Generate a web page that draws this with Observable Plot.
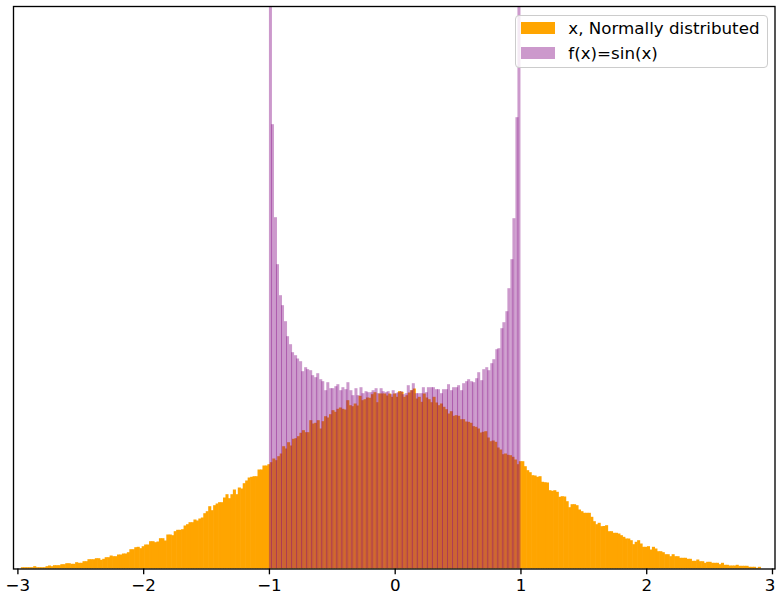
<!DOCTYPE html>
<html>
<head>
<meta charset="utf-8">
<script src="https://cdn.jsdelivr.net/npm/d3@7"></script>
<script src="https://cdn.jsdelivr.net/npm/@observablehq/plot@0.6"></script>
<style>
  body { margin: 0; background: #fff; }
  #wrap { position: relative; width: 776px; height: 599px; overflow: hidden; font-family: "DejaVu Sans", sans-serif; }
  #wrap svg { position: absolute; left: 0; top: 0; }
  .lg-box { position: absolute; left: 515px; top: 15px; width: 253px; height: 53px; box-sizing: border-box;
            border: 1.3px solid #cccccc; border-radius: 4px; background: rgba(255,255,255,0.8); }
  .lg-patch { position: absolute; width: 33.5px; height: 11.7px; }
  .lg-text { position: absolute; font-size: 16.7px; line-height: 16.7px; color: #000; white-space: nowrap; }
</style>
</head>
<body>
<div id="wrap"></div>
<script>
// ---- data ----
const seriesNames = ["x, Normally distributed", "f(x)=sin(x)"];
const seriesColors = ["#FFA500", "purple"];

// x ~ Normal: 300 bins
const orangeStart = -2.97;
const orangeBinWidth = 0.0196;
const orangeCounts = [
  1.3,1.3,1.3,1.3,1.3,2.3,1.3,1.3,1.3,1.3,
  2.3,3,2.3,3.3,3.3,3.3,4.3,4.3,5.3,5.3,
  4.7,4.7,6.3,5.7,5.7,7.3,7.3,9.3,9.3,9.3,
  10.3,10.3,8.7,9.7,11.3,11.3,13,12.3,12.3,14,
  14,15,15,16.3,19.3,19.3,21.3,21.7,20.3,22.3,
  24,24,27.3,27.3,26.3,27,30.3,30.3,28,34,
  34,33.3,37.3,38.7,38.7,39.3,43,44.3,46.3,46.3,
  49,48,50,51,55.3,57.3,62.3,58.3,63.3,65,
  66.3,66.3,71,74.3,70.3,74.3,79,74.3,81,80,
  85.3,88,91,91.7,92.3,92.3,99,99,103,103,
  104.3,106.3,110,108.3,112.3,115,122.3,120,126.3,123,
  129.7,130.3,132.3,135.7,138.3,136.3,136.3,148.3,145,145.7,
  148.3,140,147.3,152.3,151,154.3,158.3,156.7,159.7,161,
  159.7,159,168.3,163.3,162.3,165,163,172.7,168.3,169.3,
  171,170.7,174.3,176.3,166.3,175,175,175,173,175,
  171.7,175,171.7,177.3,176.7,171.7,173.3,176,178.3,180,
  170,171.7,166.7,175,171,169.3,166.3,171.7,166,163.3,
  165,161.7,159.3,155,157.3,152.7,153.3,152.7,149.3,149.3,
  147,146.7,145.7,142.3,141.7,140,136,136.7,137.3,131,
  127.3,128,126.7,121,119,114.3,115,113.7,113.3,111.7,
  109,104.3,107.3,107.3,102.3,98.3,96.3,93.3,93,91.7,
  92.3,86.7,86.3,86,78.3,77.7,78.3,76.7,71.7,72.3,
  72,67.3,61.3,64.3,64.3,63.3,59,57.3,55.7,55.7,
  55.7,51.7,47.3,44.3,45.7,42.3,42.5,43.3,37.3,37.3,
  35.7,35.7,35,33.3,31.7,30,30,28.3,24.3,26.7,
  28.3,25,21.7,21.7,22.3,19,21.7,20,17.3,17.3,
  16.3,14.3,14.3,12.3,14.3,12.3,12.3,10.7,10.7,10.7,
  9.7,9.7,7.7,7.7,9,7.3,7.3,5.7,6.7,6.7,
  5.7,5.7,5.7,4.3,5.7,3.7,3.7,3,3,3,
  3.7,2.7,2.7,2.7,2.7,1.7,1.7,1.7,0.7,1.7
];

// f(x) = sin(x): 100 bins on [-1, 1]; the two end bins run past the top of the axes
const purpleStart = -1;
const purpleBinWidth = 0.02;
const purpleCounts = [
  620,444.3,351.3,304.3,273.3,263.3,247.3,232.3,224.3,216.3,
  213.3,210,207.3,197.3,201.3,199.3,198.3,193.3,191.3,195.3,
  189.3,187.3,178.3,186.3,180.3,180.3,182.3,184.3,178.3,181.3,
  179.3,186.3,178.3,173.3,180.3,173.3,181.3,175.3,177.3,176.3,
  176.3,178.3,180.3,175.3,180.3,177.3,176.3,177.3,174.3,178.3,
  175.3,176.3,177.3,174.3,175.3,183.3,178.3,185.3,175.3,175.3,
  175.3,181.3,176.3,181.3,181.3,181.3,179.3,179.3,175.3,179.3,
  179.3,184.3,178.3,181.3,181.3,183.3,178.3,185.3,187.3,189.3,
  187.3,186.3,190.3,196.3,188.3,199.3,201.3,198.3,205.3,209.3,
  219.3,220.3,240.3,246.3,257.3,280.3,309.3,350.3,451.3,620
];

const xTicks = [-3, -2, -1, 0, 1, 2, 3];
const xDomain = [-3.035, 3.02];
const yDomain = [0, 562.5];

// ---- build tables ----
const orangeBins = orangeCounts.map((c, i) => ({
  x1: orangeStart + i * orangeBinWidth,
  x2: orangeStart + (i + 1) * orangeBinWidth,
  count: c
}));
const purpleBins = purpleCounts.map((c, i) => ({
  i,
  x1: purpleStart + i * purpleBinWidth,
  x2: purpleStart + (i + 1) * purpleBinWidth,
  count: c
}));

const fmt = d3.format("d");
const lastTick = xTicks[xTicks.length - 1];

const chart = Plot.plot({
  width: 776,
  height: 599,
  marginLeft: 13,
  marginRight: 1.5,
  marginTop: 6,
  marginBottom: 30.5,
  x: { domain: xDomain },
  y: { domain: yDomain, axis: null },
  style: { fontFamily: "DejaVu Sans, sans-serif", fontSize: "16.7px", background: "white", color: "black", overflow: "visible" },
  marks: [
    Plot.rectY(orangeBins, { x1: "x1", x2: "x2", y: "count", fill: seriesColors[0], insetLeft: -0.3, insetRight: -0.3 }),
    Plot.rectY(purpleBins.filter(d => d.i % 2 === 0), { x1: "x1", x2: "x2", y: "count", fill: seriesColors[1], fillOpacity: 0.4, insetLeft: 0, insetRight: -0.5, clip: true }),
    Plot.rectY(purpleBins.filter(d => d.i % 2 === 1), { x1: "x1", x2: "x2", y: "count", fill: seriesColors[1], fillOpacity: 0.4, insetLeft: -0.5, insetRight: 0, clip: true }),
    Plot.frame({ stroke: "black", strokeWidth: 1.33 }),
    Plot.axisX({ ticks: xTicks, tickSize: 5.8, tickPadding: 4.5, fontSize: 16.7, strokeWidth: 1.33, label: null, text: null }),
    Plot.axisX({ ticks: xTicks.filter(t => t !== lastTick), tickSize: 0, tickPadding: 10.3, fontSize: 16.7, tickFormat: fmt, label: null }),
    Plot.axisX({ ticks: [lastTick], tickSize: 0, tickPadding: 10.3, fontSize: 16.7, tickFormat: fmt, label: null, dx: -2.5 })
  ]
});

const wrap = document.getElementById("wrap");
wrap.appendChild(chart);

// ---- legend (upper right, inside axes) ----
const box = document.createElement("div");
box.className = "lg-box";
wrap.appendChild(box);
const legendRows = [
  { patchTop: 22.3, textTop: 20.2 },
  { patchTop: 47.0, textTop: 44.6 }
];
seriesNames.forEach((name, k) => {
  const p = document.createElement("div");
  p.className = "lg-patch";
  p.style.left = "521px";
  p.style.top = legendRows[k].patchTop + "px";
  p.style.background = seriesColors[k];
  if (k === 1) p.style.opacity = 0.4;
  wrap.appendChild(p);
  const t = document.createElement("div");
  t.className = "lg-text";
  t.style.left = "568.3px";
  t.style.top = legendRows[k].textTop + "px";
  t.textContent = name;
  wrap.appendChild(t);
});
</script>
</body>
</html>
